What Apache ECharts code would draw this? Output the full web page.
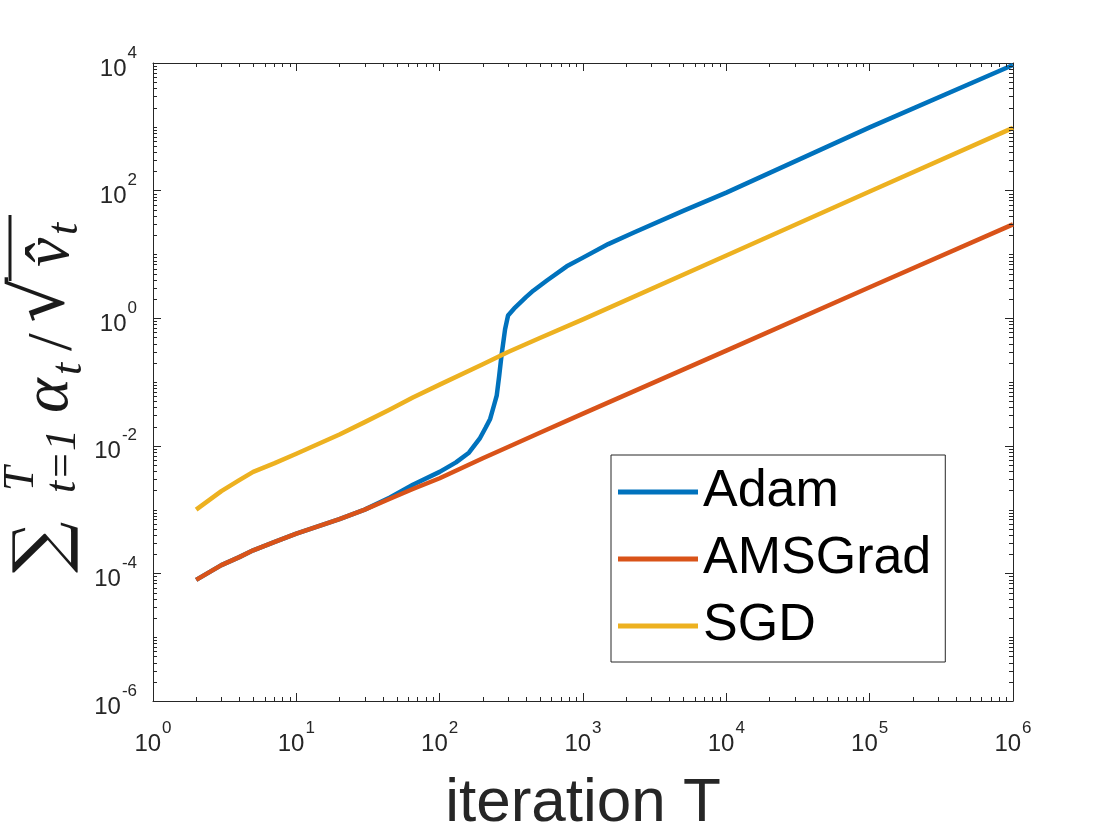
<!DOCTYPE html>
<html>
<head>
<meta charset="utf-8">
<script src="https://cdn.jsdelivr.net/npm/echarts@6.0.0/dist/echarts.min.js"></script>
<style>
  html, body { margin: 0; padding: 0; background: #fff; }
  #chart { width: 1120px; height: 840px; }
</style>
</head>
<body>
<div id="chart"></div>
<script>
// iteration T and the summed step sizes
const adamT = [2, 3, 4, 5, 7, 10, 20, 30, 45, 65, 100, 130, 160, 190, 210, 225, 240, 250, 260, 270, 278, 286, 300, 330, 400, 450, 560, 770, 1000, 1500, 2245, 5000, 1e4, 1e5, 1e6];
const adamVals = [7.9e-5, 1.35e-4, 1.8e-4, 2.3e-4, 3.1e-4, 4.2e-4, 7.1e-4, 1.0e-3, 1.55e-3, 2.45e-3, 3.9e-3, 5.5e-3, 7.8e-3, 1.29e-2, 1.95e-2, 2.64e-2, 4.4e-2, 6.1e-2, 0.123, 0.26, 0.42, 0.67, 1.1, 1.41, 2.14, 2.7, 3.9, 6.5, 8.9, 14.5, 21.9, 48, 93, 980, 9300];

const amsT = [2, 3, 4, 5, 7, 10, 20, 30, 45, 65, 100, 200, 300, 500, 1000, 1e4, 1e5, 1e6];
const amsVals = [7.9e-5, 1.35e-4, 1.8e-4, 2.3e-4, 3.1e-4, 4.2e-4, 7.1e-4, 1.0e-3, 1.48e-3, 2.1e-3, 3.1e-3, 6.4e-3, 9.6e-3, 1.6e-2, 3.2e-2, 0.31, 3.05, 29.5];

const sgdT = [2, 3, 4, 5, 7, 10, 20, 30, 45, 65, 100, 200, 300, 500, 1000, 1e4, 1e5, 1e6];
const sgdVals = [1.0e-3, 1.95e-3, 2.9e-3, 3.9e-3, 5.3e-3, 7.5e-3, 1.5e-2, 2.35e-2, 3.7e-2, 5.7e-2, 9.1e-2, 0.19, 0.295, 0.49, 0.96, 9.6, 97, 960];

const seriesNames = ['Adam', 'AMSGrad', 'SGD'];
const seriesColors = ['#0072BD', '#D95319', '#EDB120'];

// log minor ticks (2..9 per decade)
const minorMult = [2, 3, 4, 5, 6, 7, 8, 9];
const xDecades = [0, 1, 2, 3, 4, 5];
const yDecades = [-6, -5, -4, -3, -2, -1, 0, 1, 2, 3];
const yOddDecades = [-5, -3, -1, 1, 3];

const axisColor = '#262626';
const narrow = "'Liberation Sans Narrow', 'Liberation Sans', Arial, sans-serif";
const majorLen = 8, minorLen = 4;

const xMinor = [];
xDecades.forEach(e => minorMult.forEach(m => xMinor.push([m * Math.pow(10, e), 1])));
const yMinor = [];
yDecades.forEach(e => minorMult.forEach(m => yMinor.push([1, m * Math.pow(10, e)])));
yOddDecades.forEach(e => yMinor.push([1, Math.pow(10, e)]));

const pairs = (xs, ys) => xs.map((x, i) => [x, ys[i]]);

// 10^n labels: both tokens get the same box height, base pushed down, exponent up
const powLabel = v => '{b|10}{s|' + Math.round(Math.log10(v)) + '}';
const powRich = {
  b: { fontSize: 24, lineHeight: 24, fontFamily: narrow, color: axisColor, padding: [12, 0, 0, 0] },
  s: { fontSize: 17, lineHeight: 16, fontFamily: narrow, color: axisColor, padding: [0, 0, 20, 1] }
};

function xMinorItem(params, api) {
  const cs = params.coordSys;
  const x = Math.round(api.coord([api.value(0), 1])[0]) + 0.5;
  const yb = cs.y + cs.height, yt = cs.y;
  return { type: 'group', children: [
    { type: 'line', shape: { x1: x, y1: yb, x2: x, y2: yb - minorLen }, style: { stroke: axisColor, lineWidth: 1 } },
    { type: 'line', shape: { x1: x, y1: yt, x2: x, y2: yt + minorLen }, style: { stroke: axisColor, lineWidth: 1 } }
  ] };
}
function yMinorItem(params, api) {
  const cs = params.coordSys;
  const y = Math.round(api.coord([1, api.value(1)])[1]) + 0.5;
  const xl = cs.x, xr = cs.x + cs.width;
  return { type: 'group', children: [
    { type: 'line', shape: { x1: xl, y1: y, x2: xl + minorLen, y2: y }, style: { stroke: axisColor, lineWidth: 1 } },
    { type: 'line', shape: { x1: xr, y1: y, x2: xr - minorLen, y2: y }, style: { stroke: axisColor, lineWidth: 1 } }
  ] };
}

const logX = {
  type: 'log', logBase: 10, min: 1, max: 1e6, interval: 1,
  axisLine: { show: true, lineStyle: { color: axisColor, width: 1 } },
  axisTick: { show: true, inside: true, length: majorLen, lineStyle: { color: axisColor } },
  splitLine: { show: false }
};
const logY = {
  type: 'log', logBase: 10, min: 1e-6, max: 1e4, interval: 2,
  axisLine: { show: true, lineStyle: { color: axisColor, width: 1 } },
  axisTick: { show: true, inside: true, length: majorLen, lineStyle: { color: axisColor } },
  splitLine: { show: false }
};

const letterFont = "'Liberation Serif', 'DejaVu Serif', serif";
const symbolFont = "'DejaVu Serif', serif";
const t = (x, y, text, size, italic, family) => ({
  type: 'text', x: x, y: y,
  style: {
    text: text, fill: '#1a1a1a',
    font: (italic ? 'italic ' : '') + size + 'px ' + (family || letterFont),
    align: 'left', verticalAlign: 'middle', textAlign: 'left', textVerticalAlign: 'middle'
  }
});

const chart = echarts.init(document.getElementById('chart'), null, { renderer: 'canvas' });
chart.setOption({
  animation: false,
  backgroundColor: '#ffffff',
  grid: { left: 153, right: 107, top: 63, bottom: 137, containLabel: false },
  legend: {
    data: seriesNames.map(n => ({ name: n, icon: 'rect' })),
    orient: 'vertical',
    left: 611, top: 455,
    padding: [11, 14, 10, 7],
    itemGap: 15,
    itemWidth: 80, itemHeight: 5,
    backgroundColor: '#ffffff',
    borderColor: axisColor, borderWidth: 1,
    textStyle: { fontSize: 52, lineHeight: 52, fontFamily: "'Liberation Sans', Arial, sans-serif", color: '#000' }
  },
  xAxis: [
    Object.assign({}, logX, {
      position: 'bottom',
      axisLabel: { formatter: powLabel, rich: powRich, margin: 25 },
      name: 'iteration T', nameLocation: 'middle', nameGap: 72,
      nameTextStyle: { fontSize: 62, fontFamily: "'Liberation Sans', Arial, sans-serif", color: axisColor }
    }),
    Object.assign({}, logX, { position: 'top', axisLabel: { show: false } })
  ],
  yAxis: [
    Object.assign({}, logY, {
      position: 'left',
      axisLabel: { formatter: powLabel, rich: powRich, margin: 16 }
    }),
    Object.assign({}, logY, { position: 'right', axisLabel: { show: false } })
  ],
  graphic: [{
    type: 'group', x: 67, y: 573, rotation: Math.PI / 2,
    children: [
      t(0, -22, '\u2211', 72, false, symbolFont),
      t(82, -46, 'T', 44, true),
      t(80, -4, 't=1', 44, true),
      t(160, -17, '\u03b1', 66, true),
      t(198, 2, 't', 44, true),
      t(222, -13, '/', 64, false),
      t(250, -23, '\u221a', 72, false, symbolFont),
      { type: 'line', shape: { x1: 292, y1: -57, x2: 358, y2: -57 }, style: { stroke: '#1a1a1a', lineWidth: 3 } },
      t(306, -16, 'v\u0302', 66, true),
      t(338, -2, 't', 44, true)
    ]
  }],
  series: [
    {
      name: seriesNames[0], type: 'line', data: pairs(adamT, adamVals),
      symbol: 'none', showSymbol: false, z: 2,
      lineStyle: { color: seriesColors[0], width: 4.5, join: 'round' }, itemStyle: { color: seriesColors[0] }
    },
    {
      name: seriesNames[1], type: 'line', data: pairs(amsT, amsVals),
      symbol: 'none', showSymbol: false, z: 3,
      lineStyle: { color: seriesColors[1], width: 4.5, join: 'round' }, itemStyle: { color: seriesColors[1] }
    },
    {
      name: seriesNames[2], type: 'line', data: pairs(sgdT, sgdVals),
      symbol: 'none', showSymbol: false, z: 4,
      lineStyle: { color: seriesColors[2], width: 4.5, join: 'round' }, itemStyle: { color: seriesColors[2] }
    },
    { type: 'custom', renderItem: xMinorItem, data: xMinor, silent: true, z: 5 },
    { type: 'custom', renderItem: yMinorItem, data: yMinor, silent: true, z: 5 }
  ]
});
</script>
</body>
</html>
